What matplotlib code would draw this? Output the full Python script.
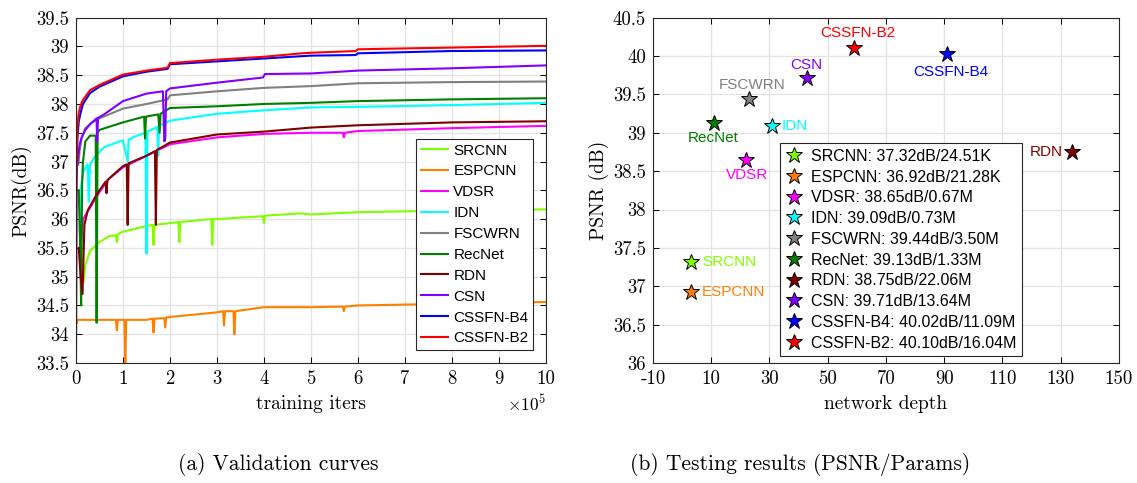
import numpy as np
import matplotlib
matplotlib.use('Agg')
import matplotlib.pyplot as plt

plt.rcParams['font.family'] = 'cmr10'
plt.rcParams['mathtext.fontset'] = 'cm'
plt.rcParams['axes.unicode_minus'] = False

SANS = 'Liberation Sans'

# ---- (a) validation curves, x in units of 1e5 iters ----
methods = ['SRCNN', 'ESPCNN', 'VDSR', 'IDN', 'FSCWRN', 'RecNet', 'RDN', 'CSN', 'CSSFN-B4', 'CSSFN-B2']
colors = ['#80ff00', '#ff8000', '#ff00ff', '#00ffff', '#808080', '#007f00', '#800000', '#8000ff', '#0000ff', '#ff0000']

srcnn_x = [0.13, 0.16, 0.2, 0.3, 0.5, 0.7, 0.85, 0.87, 0.89, 1.0, 1.5, 1.63, 1.65, 1.67, 2.0, 2.18, 2.2, 2.22, 2.88, 2.9, 2.92, 3.0, 3.98, 4.0, 4.02, 4.8, 5.0, 6.0, 8.0, 10.0]
srcnn_y = [35.3, 34.9, 35.2, 35.45, 35.6, 35.7, 35.72, 35.6, 35.74, 35.78, 35.88, 35.9, 35.55, 35.9, 35.93, 35.95, 35.6, 35.95, 36.0, 35.55, 36.0, 36.0, 36.05, 35.93, 36.06, 36.1, 36.08, 36.12, 36.15, 36.17]

espcnn_x = [0.02, 0.03, 0.5, 0.85, 0.87, 0.89, 1.03, 1.05, 1.07, 1.5, 1.63, 1.65, 1.67, 1.88, 1.9, 1.92, 2.0, 3.0, 3.13, 3.15, 3.17, 3.35, 3.37, 3.39, 4.0, 5.0, 5.68, 5.7, 5.72, 6.0, 8.0, 10.0]
espcnn_y = [34.2, 34.25, 34.25, 34.25, 34.07, 34.25, 34.25, 33.5, 34.25, 34.25, 34.27, 34.03, 34.27, 34.28, 34.12, 34.29, 34.3, 34.38, 34.4, 34.15, 34.4, 34.4, 34.0, 34.4, 34.47, 34.47, 34.48, 34.4, 34.48, 34.5, 34.53, 34.56]

vdsr_x = [0.1, 0.15, 0.3, 0.5, 0.7, 1.0, 1.5, 2.0, 3.0, 4.0, 5.0, 5.68, 5.7, 5.72, 6.0, 8.0, 10.0]
vdsr_y = [35.5, 36.0, 36.2, 36.47, 36.7, 36.9, 37.1, 37.3, 37.42, 37.48, 37.5, 37.5, 37.42, 37.5, 37.53, 37.58, 37.62]

idn_x = [0.08, 0.1, 0.15, 0.2, 0.25, 0.27, 0.3, 0.4, 0.6, 1.0, 1.1, 1.12, 1.3, 1.48, 1.5, 1.52, 1.73, 1.75, 1.77, 2.0, 3.0, 4.0, 5.0, 6.0, 8.0, 10.0]
idn_y = [35.8, 36.5, 36.8, 36.9, 36.95, 36.3, 36.95, 37.08, 37.25, 37.37, 37.0, 37.38, 37.45, 37.5, 35.4, 37.52, 37.6, 37.1, 37.62, 37.71, 37.83, 37.89, 37.94, 37.95, 37.98, 38.02]

fscwrn_x = [0.05, 0.08, 0.12, 0.2, 0.35, 0.5, 1.0, 1.5, 1.95, 2.0, 3.0, 4.0, 5.0, 6.0, 8.0, 10.0]
fscwrn_y = [36.95, 37.2, 37.4, 37.58, 37.68, 37.75, 37.92, 38.0, 38.08, 38.15, 38.22, 38.28, 38.31, 38.36, 38.38, 38.39]

recnet_x = [0.06, 0.09, 0.11, 0.13, 0.15, 0.2, 0.3, 0.42, 0.44, 0.46, 0.5, 1.0, 1.45, 1.47, 1.49, 1.75, 1.78, 1.8, 2.0, 3.0, 4.0, 5.0, 6.0, 8.0, 10.0]
recnet_y = [36.5, 35.5, 34.5, 36.6, 37.0, 37.35, 37.45, 37.45, 34.2, 37.5, 37.55, 37.68, 37.78, 37.4, 37.78, 37.82, 37.5, 37.83, 37.93, 37.96, 38.0, 38.02, 38.05, 38.08, 38.1]

rdn_x = [0.06, 0.1, 0.14, 0.18, 0.25, 0.4, 0.5, 0.63, 0.65, 0.67, 0.7, 1.0, 1.08, 1.1, 1.12, 1.5, 1.68, 1.7, 1.72, 2.0, 3.0, 4.0, 5.0, 6.0, 8.0, 10.0]
rdn_y = [35.5, 35.0, 34.7, 35.9, 36.15, 36.37, 36.5, 36.65, 36.45, 36.68, 36.7, 36.92, 36.95, 35.9, 36.97, 37.1, 37.18, 35.9, 37.2, 37.33, 37.47, 37.52, 37.59, 37.63, 37.68, 37.7]

csn_x = [0.03, 0.05, 0.08, 0.12, 0.2, 0.3, 0.44, 0.45, 0.47, 0.6, 1.0, 1.5, 1.85, 1.88, 1.9, 1.92, 2.0, 3.0, 3.98, 4.02, 5.0, 6.0, 8.0, 10.0]
csn_y = [36.95, 37.1, 37.3, 37.42, 37.55, 37.65, 37.75, 37.35, 37.76, 37.82, 38.05, 38.18, 38.22, 37.35, 37.4, 38.22, 38.27, 38.37, 38.46, 38.52, 38.53, 38.58, 38.62, 38.67]

b4_x = [0.0, 0.01, 0.03, 0.06, 0.1, 0.15, 0.3, 0.5, 1.0, 1.5, 1.95, 2.0, 3.0, 4.0, 5.0, 5.95, 6.0, 8.0, 10.0]
b4_y = [33.5, 36.5, 37.4, 37.7, 37.85, 38.0, 38.19, 38.3, 38.48, 38.56, 38.61, 38.69, 38.74, 38.79, 38.84, 38.85, 38.88, 38.92, 38.93]

b2_x = [0.0, 0.01, 0.03, 0.06, 0.1, 0.15, 0.3, 0.5, 1.0, 1.5, 1.95, 2.0, 3.0, 4.0, 4.8, 5.0, 5.95, 6.0, 8.0, 10.0]
b2_y = [33.5, 36.8, 37.6, 37.85, 37.98, 38.07, 38.24, 38.33, 38.51, 38.58, 38.63, 38.71, 38.77, 38.82, 38.88, 38.89, 38.92, 38.95, 38.98, 39.01]

curves_x = [srcnn_x, espcnn_x, vdsr_x, idn_x, fscwrn_x, recnet_x, rdn_x, csn_x, b4_x, b2_x]
curves_y = [srcnn_y, espcnn_y, vdsr_y, idn_y, fscwrn_y, recnet_y, rdn_y, csn_y, b4_y, b2_y]

# ---- (b) testing results ----
depth = [3, 3, 22, 31, 23, 11, 134, 43, 91, 59]
psnr = [37.32, 36.92, 38.65, 39.09, 39.44, 39.13, 38.75, 39.71, 40.02, 40.10]
params = ['24.51K', '21.28K', '0.67M', '0.73M', '3.50M', '1.33M', '22.06M', '13.64M', '11.09M', '16.04M']
# label offset (points) and alignment for each point label
lab_off = [(8, 0), (8, 0), (1, -11), (7, 0), (2, 10), (-1, -11), (-7, 0), (-1, 9.5), (2.5, -12.5), (2.5, 11)]
lab_ha = ['left', 'left', 'center', 'left', 'center', 'center', 'right', 'center', 'center', 'center']

fig = plt.figure(figsize=(11.37, 4.83), dpi=100)
ax1 = fig.add_axes([0.0668, 0.2484, 0.4134, 0.7151])
ax2 = fig.add_axes([0.5743, 0.2484, 0.4097, 0.7151])

for x, y, name, c in zip(curves_x, curves_y, methods, colors):
    ax1.plot(x, y, color=c, lw=1.5, label=name)

ax1.set_xlim(0, 10)
ax1.set_ylim(33.5, 39.5)
ax1.set_xticks(range(0, 11))
ax1.set_xticklabels([str(i) for i in range(0, 11)])
yt = np.arange(33.5, 39.51, 0.5)
ax1.set_yticks(yt)
ax1.set_yticklabels(['%g' % v for v in yt])
ax1.set_xlabel('training iters', fontsize=14, labelpad=5)
ax1.set_ylabel('PSNR(dB)', fontsize=14, labelpad=3)
ax1.text(1.0, -0.118, r'$\times10^5$', transform=ax1.transAxes, ha='right', va='center', fontsize=12.5)
leg = ax1.legend(loc='lower right', prop={'family': SANS, 'size': 11}, fancybox=False,
                 edgecolor='#262626', framealpha=1, borderaxespad=0.85, labelspacing=0.45,
                 handlelength=1.8, handletextpad=0.33, borderpad=0.3)
leg.get_frame().set_linewidth(0.8)

for i, name in enumerate(methods):
    ax2.plot(depth[i], psnr[i], marker='*', ms=12, color=colors[i], mec='k', mew=0.7, ls='none',
             label='%s: %.2fdB/%s' % (name, psnr[i], params[i]))
    ax2.annotate(name, (depth[i], psnr[i]), xytext=lab_off[i], textcoords='offset points',
                 ha=lab_ha[i], va='center', color=colors[i], family=SANS, fontsize=11)

ax2.set_xlim(-10, 150)
ax2.set_ylim(36, 40.5)
xt2 = list(range(-10, 151, 20))
ax2.set_xticks(xt2)
ax2.set_xticklabels([str(v) for v in xt2])
yt2 = np.arange(36, 40.51, 0.5)
ax2.set_yticks(yt2)
ax2.set_yticklabels(['%g' % v for v in yt2])
ax2.set_xlabel('network depth', fontsize=14, labelpad=5)
ax2.set_ylabel('PSNR (dB)', fontsize=14, labelpad=3)
leg2 = ax2.legend(loc='lower right', bbox_to_anchor=(0.792, 0.02), prop={'family': SANS, 'size': 11.5},
                  fancybox=False, edgecolor='#262626', framealpha=1, labelspacing=0.36,
                  handlelength=1.0, handletextpad=0.55, borderpad=0.35, borderaxespad=0)
leg2.get_frame().set_linewidth(0.8)

for ax in (ax1, ax2):
    ax.grid(True, color='#e3e3e3', lw=0.9)
    ax.set_axisbelow(True)
    ax.tick_params(direction='in', top=True, right=True, labelsize=13.5, length=4, width=0.7, pad=5)
    for s in ax.spines.values():
        s.set_linewidth(0.8)
        s.set_color('#262626')

fig.text(0.245, 0.038, '(a) Validation curves', ha='center', va='center', fontsize=15.5)
fig.text(0.704, 0.038, '(b) Testing results (PSNR/Params)', ha='center', va='center', fontsize=15.5)

fig.savefig('out.png', dpi=100)
